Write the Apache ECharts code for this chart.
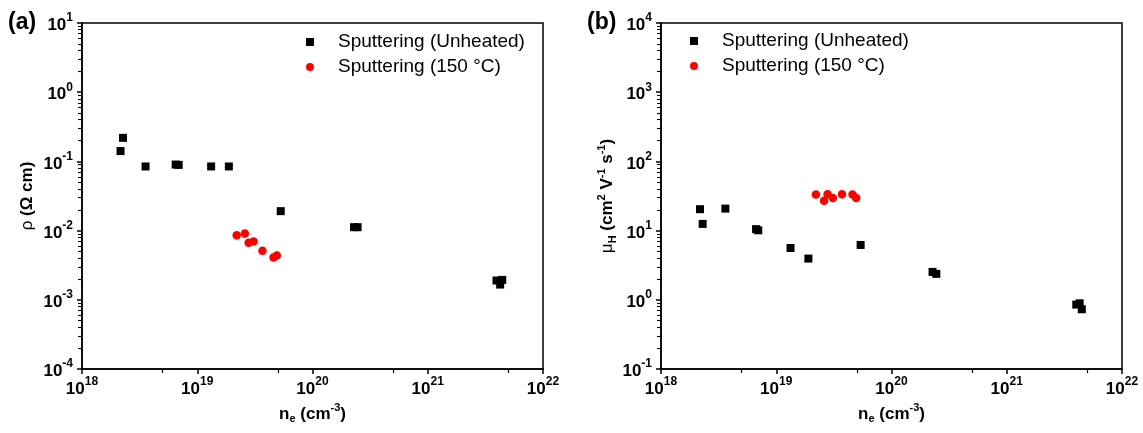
<!DOCTYPE html>
<html><head><meta charset="utf-8">
<script src="https://cdn.jsdelivr.net/npm/echarts@6/dist/echarts.min.js"></script>
<style>html,body{margin:0;padding:0;background:#fff}#c{width:1143px;height:433px}</style>
</head><body><div id="c"></div>
<script>
// ---- data ----
const neUnheatedA = [2.16e18, 2.27e18, 3.56e18, 6.5e18, 6.9e18, 1.32e19, 1.88e19, 5.3e19, 2.29e20, 2.46e20, 3.95e21, 4.43e21, 4.25e21];
const rhoUnheated = [0.141, 0.219, 0.0845, 0.090, 0.089, 0.0845, 0.0845, 0.0191, 0.0112, 0.0112, 0.0019, 0.00194, 0.00166];
const ne150A = [2.2e19, 2.59e19, 2.79e19, 3.08e19, 3.68e19, 4.59e19, 4.9e19];
const rho150 = [0.00858, 0.0091, 0.0067, 0.00695, 0.0051, 0.00407, 0.00435];
const neUnheatedB = [2.18e18, 2.3e18, 3.62e18, 6.68e18, 6.98e18, 1.33e19, 1.9e19, 5.4e19, 2.27e20, 2.45e20, 4.01e21, 4.29e21, 4.48e21];
const muUnheated = [20.4, 12.5, 20.8, 10.5, 10.1, 5.6, 3.94, 6.2, 2.53, 2.37, 0.853, 0.89, 0.73];
const ne150B = [2.21e19, 2.6e19, 2.79e19, 3.1e19, 3.72e19, 4.59e19, 4.94e19];
const mu150 = [33.2, 26.9, 33.6, 29.7, 33.6, 33.2, 29.5];
// tick exponents
const xExp = [18, 19, 20, 21, 22];
const yExpA = [-4, -3, -2, -1, 0, 1];
const yExpB = [-1, 0, 1, 2, 3, 4];
const seriesNames = ['Sputtering (Unheated)', 'Sputtering (150 °C)'];
const yMinorMult = [2, 3, 4, 5, 6, 7, 8, 9];
const xMinorMult = [5];

function minorTicks(exps, mults) {
  const out = [];
  for (let i = 0; i < exps.length - 1; i++) mults.forEach(m => out.push(m * Math.pow(10, exps[i])));
  return out;
}
const FONT = 'Liberation Sans, Arial, sans-serif';
const rich = {
  b: { fontSize: 17, fontWeight: 'bold', fontFamily: FONT, color: '#000', lineHeight: 22, verticalAlign: 'bottom' },
  s: { fontSize: 12, fontWeight: 'bold', fontFamily: FONT, color: '#000', lineHeight: 12, verticalAlign: 'top' }
};
function expLabel(v) { const e = Math.round(Math.log10(v)); return '{b|10}{s|' + e + '}'; }
const nameRich = {
  t: { fontSize: 17, fontWeight: 'bold', fontFamily: FONT, color: '#000', lineHeight: 22 },
  g: { fontSize: 17, fontWeight: 'normal', fontFamily: FONT, color: '#000', lineHeight: 22 },
  sup: { fontSize: 11, fontWeight: 'bold', fontFamily: FONT, color: '#000', lineHeight: 11, verticalAlign: 'top' },
  sub: { fontSize: 11, fontWeight: 'bold', fontFamily: FONT, color: '#000', lineHeight: 11, verticalAlign: 'bottom' }
};
const grids = [
  { left: 82, top: 23, width: 461, height: 346 },
  { left: 661, top: 23, width: 461, height: 346 }
];
function logX(gi) {
  return {
    type: 'log', logBase: 10, gridIndex: gi, min: Math.pow(10, xExp[0]), max: Math.pow(10, xExp[xExp.length - 1]),
    position: 'bottom',
    name: '{t|n}{sub|e}{t| (cm}{sup|-3}{t|)}', nameLocation: 'middle', nameGap: 27,
    nameTextStyle: { rich: nameRich },
    axisLine: { show: true, onZero: false, lineStyle: { color: '#000', width: 1.5 } },
    axisTick: { show: true, inside: false, length: 5, lineStyle: { color: '#000', width: 1.5 } },
    axisLabel: { margin: 7, formatter: expLabel, rich: rich, customValues: xExp.map(e => Math.pow(10, e)) },
    splitLine: { show: false }, minorTick: { show: false }
  };
}
function minorX(gi) {
  return {
    type: 'log', logBase: 10, gridIndex: gi, min: Math.pow(10, xExp[0]), max: Math.pow(10, xExp[xExp.length - 1]), position: 'bottom',
    axisLine: { show: false, onZero: false }, axisLabel: { show: false }, splitLine: { show: false },
    axisTick: { show: true, length: 4, customValues: minorTicks(xExp, xMinorMult), lineStyle: { color: '#000', width: 1.2 } }
  };
}
function logY(gi, exps, name, gap) {
  return {
    type: 'log', logBase: 10, gridIndex: gi, min: Math.pow(10, exps[0]), max: Math.pow(10, exps[exps.length - 1]),
    position: 'left',
    name: name, nameLocation: 'middle', nameGap: gap, nameTextStyle: { rich: nameRich },
    axisLine: { show: true, onZero: false, lineStyle: { color: '#000', width: 1.5 } },
    axisTick: { show: true, inside: false, length: 5, lineStyle: { color: '#000', width: 1.5 } },
    axisLabel: { margin: 9, formatter: expLabel, rich: rich, customValues: exps.map(e => Math.pow(10, e)) },
    splitLine: { show: false }, minorTick: { show: false }
  };
}
function minorY(gi, exps) {
  return {
    type: 'log', logBase: 10, gridIndex: gi, min: Math.pow(10, exps[0]), max: Math.pow(10, exps[exps.length - 1]), position: 'left',
    axisLine: { show: false, onZero: false }, axisLabel: { show: false }, splitLine: { show: false },
    axisTick: { show: true, length: 4, customValues: minorTicks(exps, yMinorMult), lineStyle: { color: '#000', width: 1.1 } }
  };
}
function zip(a, b) { return a.map((v, i) => [v, b[i]]); }
function sq(name, xi, yi, data) {
  return { type: 'scatter', name: name, xAxisIndex: xi, yAxisIndex: yi, data: data, symbol: 'rect', symbolSize: 8, itemStyle: { color: '#000', opacity: 1 }, z: 3 };
}
function dot(name, xi, yi, data) {
  return { type: 'scatter', name: name, xAxisIndex: xi, yAxisIndex: yi, data: data, symbol: 'circle', symbolSize: 8.5, itemStyle: { color: '#ff0000', opacity: 1 }, z: 4 };
}
function legend(left, top) {
  return {
    left: left, top: top, orient: 'vertical', itemWidth: 8, itemHeight: 8, itemGap: 5, selectedMode: false,
    data: seriesNames, textStyle: { fontSize: 19, fontFamily: FONT, color: '#000', lineHeight: 20, padding: [0, 0, 0, 19] }
  };
}
const option = {
  animation: false,
  backgroundColor: '#fff',
  title: [
    { text: '(a)', left: 8, top: 11, padding: 0, textStyle: { fontSize: 23, fontWeight: 'bold', fontFamily: FONT, color: '#000' } },
    { text: '(b)', left: 587, top: 11, padding: 0, textStyle: { fontSize: 23, fontWeight: 'bold', fontFamily: FONT, color: '#000' } }
  ],
  grid: grids.map(g => Object.assign({ show: true, borderColor: '#000', borderWidth: 1.5, backgroundColor: 'transparent' }, g)),
  legend: [legend(301, 27), legend(685, 26)],
  xAxis: [logX(0), logX(1), minorX(0), minorX(1)],
  yAxis: [
    logY(0, yExpA, '{g|ρ}{t| (Ω cm)}', 44),
    logY(1, yExpB, '{g|μ}{sub|H}{t| (cm}{sup|2}{t| V}{sup|-1}{t| s}{sup|-1}{t|)}', 43),
    minorY(0, yExpA), minorY(1, yExpB)
  ],
  series: [
    sq(seriesNames[0], 0, 0, zip(neUnheatedA, rhoUnheated)),
    dot(seriesNames[1], 0, 0, zip(ne150A, rho150)),
    sq(seriesNames[0], 1, 1, zip(neUnheatedB, muUnheated)),
    dot(seriesNames[1], 1, 1, zip(ne150B, mu150))
  ]
};
const chart = echarts.init(document.getElementById('c'), null, { renderer: 'canvas' });
chart.setOption(option);
</script></body></html>
